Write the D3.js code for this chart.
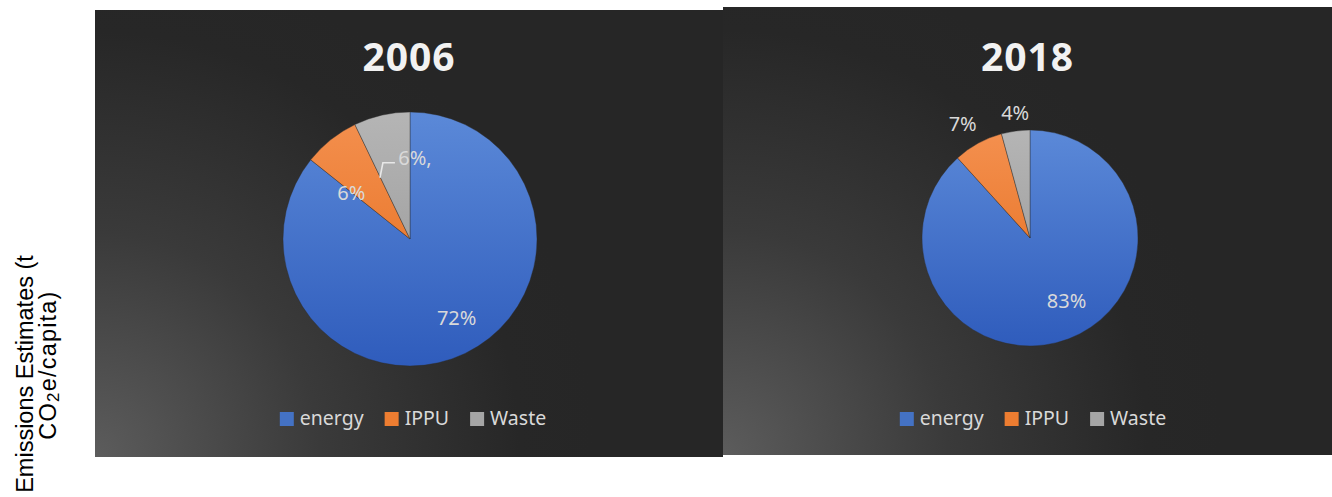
<!DOCTYPE html>
<html><head><meta charset="utf-8">
<script src="https://cdn.jsdelivr.net/npm/d3@7"></script>
<style>body{margin:0;background:#fff;} svg{display:block}</style>
</head><body><svg id="c" width="1332" height="497"></svg>
<script>
// ---- data ----
const categories = ["energy", "IPPU", "Waste"];
const years = ["2006", "2018"];
const values2006 = [72, 6, 6];
const values2018 = [83, 7, 4];
const labels2006 = ["72%", "6%", "6%,"];
const labels2018 = ["83%", "7%", "4%"];
const yTitleMain = "Emissions Estimates (t";
const yTitleSecond = ["CO", "2", "e/capita)"];

// ---- style / layout ----
const colors = ["#4472C4", "#ED7D31", "#A5A5A5"];
const gradTop = ["#5b89d8", "#f4904f", "#b5b5b5"];
const gradBot = ["#2f5cbc", "#e36a18", "#949494"];
const panels = [
  {x: 95, y: 10, w: 628, h: 447, cx: 410, cy: 239, r: 127, values: values2006, labels: labels2006, year: years[0],
   lab: [{f: 0.72, dx: 7, dy: -3}, {f: 0.59, dx: -12, dy: 13}, {f: 0.64, dx: 23, dy: -2, leader: true}]},
  {x: 723, y: 7, w: 609, h: 448, cx: 1030, cy: 238, r: 108, values: values2018, labels: labels2018, year: years[1],
   lab: [{f: 0.66, dx: 11, dy: -4}, {f: 1.22, dx: -4, dy: 2}, {f: 1.17, dx: 2, dy: 0}]}
];

const svg = d3.select("#c");
const defs = svg.append("defs");

panels.forEach((p, pi) => {
  // background radial gradient
  const bg = defs.append("radialGradient").attr("id", "bg" + pi)
    .attr("gradientUnits", "userSpaceOnUse")
    .attr("cx", p.x).attr("cy", p.y + p.h).attr("r", 500);
  bg.append("stop").attr("offset", 0).attr("stop-color", "#5c5c5c");
  bg.append("stop").attr("offset", 0.45).attr("stop-color", "#3a3a3a");
  bg.append("stop").attr("offset", 0.85).attr("stop-color", "#272727");
  bg.append("stop").attr("offset", 1).attr("stop-color", "#262626");

  categories.forEach((c, ci) => {
    const g = defs.append("linearGradient").attr("id", `sl${pi}_${ci}`)
      .attr("gradientUnits", "userSpaceOnUse")
      .attr("x1", 0).attr("x2", 0).attr("y1", -p.r).attr("y2", p.r);
    g.append("stop").attr("offset", 0).attr("stop-color", gradTop[ci]);
    g.append("stop").attr("offset", 1).attr("stop-color", gradBot[ci]);
  });

  const pg = svg.append("g");
  pg.append("rect").attr("x", p.x).attr("y", p.y).attr("width", p.w).attr("height", p.h)
    .attr("fill", `url(#bg${pi})`);

  // title
  pg.append("text").attr("x", p.x + p.w / 2).attr("y", 71)
    .attr("text-anchor", "middle")
    .attr("font-family", "'Open Sans', sans-serif").attr("font-weight", 700)
    .attr("font-size", 39).attr("fill", "#f2f2f2").attr("letter-spacing", 1)
    .text(p.year);

  // pie
  const pie = d3.pie().sort(null).value(d => d)(p.values);
  const arc = d3.arc().innerRadius(0).outerRadius(p.r);
  const pieG = pg.append("g").attr("transform", `translate(${p.cx},${p.cy})`);
  pieG.selectAll("path").data(pie).join("path")
    .attr("d", arc)
    .attr("fill", (d, i) => `url(#sl${pi}_${i})`)
    .attr("stroke", "#2a2a2a").attr("stroke-width", 0.4);

  // labels
  pie.forEach((d, i) => {
    const a = (d.startAngle + d.endAngle) / 2;
    const L = p.lab[i];
    const rr = L.f * p.r;
    const lx = Math.sin(a) * rr + L.dx;
    const ly = -Math.cos(a) * rr + L.dy;
    pieG.append("text").attr("x", lx).attr("y", ly).attr("dy", "0.35em")
      .attr("text-anchor", "middle")
      .attr("font-family", "'Noto Sans', sans-serif").attr("font-size", 20)
      .attr("fill", "#d9d9d9").text(p.labels[i]);
    if (L.leader) {
      pieG.append("polyline")
        .attr("points", [[lx - 35, ly + 20], [lx - 32, ly + 5], [lx - 20, ly + 5]].map(q => q.join(",")).join(" "))
        .attr("fill", "none").attr("stroke", "#e8e8e8").attr("stroke-width", 1.6);
    }
  });

  // legend
  const lg = pg.append("g");
  let xpos = 0;
  categories.forEach((c, ci) => {
    lg.append("rect").attr("x", xpos).attr("y", -13).attr("width", 14).attr("height", 14)
      .attr("fill", colors[ci]);
    const t = lg.append("text").attr("x", xpos + 20).attr("y", 0)
      .attr("font-family", "'Noto Sans', sans-serif").attr("font-size", 19.5)
      .attr("fill", "#d9d9d9").text(c);
    xpos += 20 + t.node().getComputedTextLength() + 21;
  });
  const lw = xpos - 21;
  lg.attr("transform", `translate(${p.cx + 3 - lw / 2},425)`);
});

// y-axis title
const yt = svg.append("g").attr("transform", "translate(0,374) rotate(-90)");
yt.append("text").attr("x", 0).attr("y", 33).attr("text-anchor", "middle")
  .attr("font-family", "'Liberation Sans', Arial, sans-serif").attr("font-size", 23.5)
  .attr("fill", "#000").text(yTitleMain);
const t2 = yt.append("text").attr("x", 9).attr("y", 56).attr("text-anchor", "middle")
  .attr("font-family", "'Liberation Sans', Arial, sans-serif").attr("font-size", 23.5)
  .attr("letter-spacing", 1.2)
  .attr("fill", "#000");
t2.append("tspan").text(yTitleSecond[0]);
t2.append("tspan").attr("font-size", 17).attr("dy", 3).text(yTitleSecond[1]);
t2.append("tspan").attr("dy", -3).text(yTitleSecond[2]);
</script>
</body></html>
